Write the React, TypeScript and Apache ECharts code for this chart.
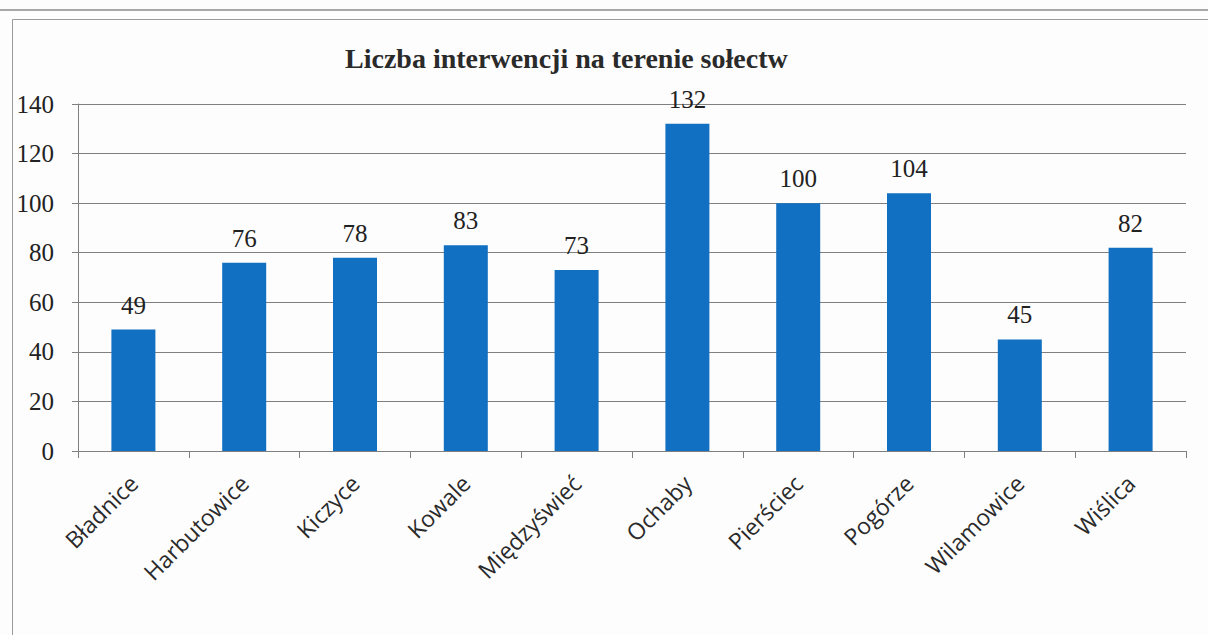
import React, { useEffect, useRef } from "react";
import * as echarts from "echarts";

const categories = [
  "Bładnice",
  "Harbutowice",
  "Kiczyce",
  "Kowale",
  "Międzyświeć",
  "Ochaby",
  "Pierściec",
  "Pogórze",
  "Wilamowice",
  "Wiślica",
];
const values = [49, 76, 78, 83, 73, 132, 100, 104, 45, 82];
const yTicks = { min: 0, max: 140, interval: 20 };
const titleText = "Liczba interwencji na terenie sołectw";

export default function App() {
  const ref = useRef<HTMLDivElement>(null);
  useEffect(() => {
    if (!ref.current) return;
    const chart = echarts.init(ref.current, null, { renderer: "svg" });
    const serif = "Liberation Serif";
    chart.setOption({
      animation: false,
      backgroundColor: "#fdfdfd",
      textStyle: { fontFamily: serif },
      title: {
        text: titleText,
        left: 340,
        top: 39,
        textStyle: {
          fontFamily: serif,
          fontWeight: "bold",
          fontSize: 28,
          color: "#2a2a2a",
        },
      },
      graphic: [
        {
          type: "rect",
          shape: { x: 0, y: 9, width: 1208, height: 2 },
          style: { fill: "#a8a8a8" },
          silent: true,
        },
        {
          type: "rect",
          shape: { x: 12.5, y: 19.5, width: 1220, height: 700 },
          style: { fill: "none", stroke: "#9a9a9a", lineWidth: 1 },
          silent: true,
        },
      ],
      grid: { left: 78, right: 22, top: 104, bottom: 184 },
      xAxis: {
        type: "category",
        data: categories,
        axisLine: { show: true, lineStyle: { color: "#808080", width: 1 } },
        axisTick: { show: true, length: 7, lineStyle: { color: "#808080" } },
        axisLabel: {
          rotate: 45,
          margin: 28,
          fontFamily: "Open Sans",
          fontSize: 23,
          color: "#2a2a2a",
          interval: 0,
        },
      },
      yAxis: {
        type: "value",
        min: yTicks.min,
        max: yTicks.max,
        interval: yTicks.interval,
        axisLine: { show: true, lineStyle: { color: "#808080", width: 1 } },
        axisTick: { show: true, length: 6, lineStyle: { color: "#808080" } },
        splitLine: { show: true, lineStyle: { color: "#808080", width: 1 } },
        axisLabel: {
          margin: 24,
          fontFamily: serif,
          fontSize: 25,
          color: "#222",
        },
      },
      series: [
        {
          type: "bar",
          data: values,
          barWidth: 44,
          itemStyle: { color: "#1170c2" },
          label: {
            show: true,
            position: "top",
            distance: 12,
            fontFamily: serif,
            fontSize: 25,
            color: "#222",
          },
        },
      ],
    });
    return () => chart.dispose();
  }, []);
  return (
    <div
      ref={ref}
      style={{ position: "fixed", left: 0, top: 0, width: 1208, height: 635 }}
    />
  );
}
